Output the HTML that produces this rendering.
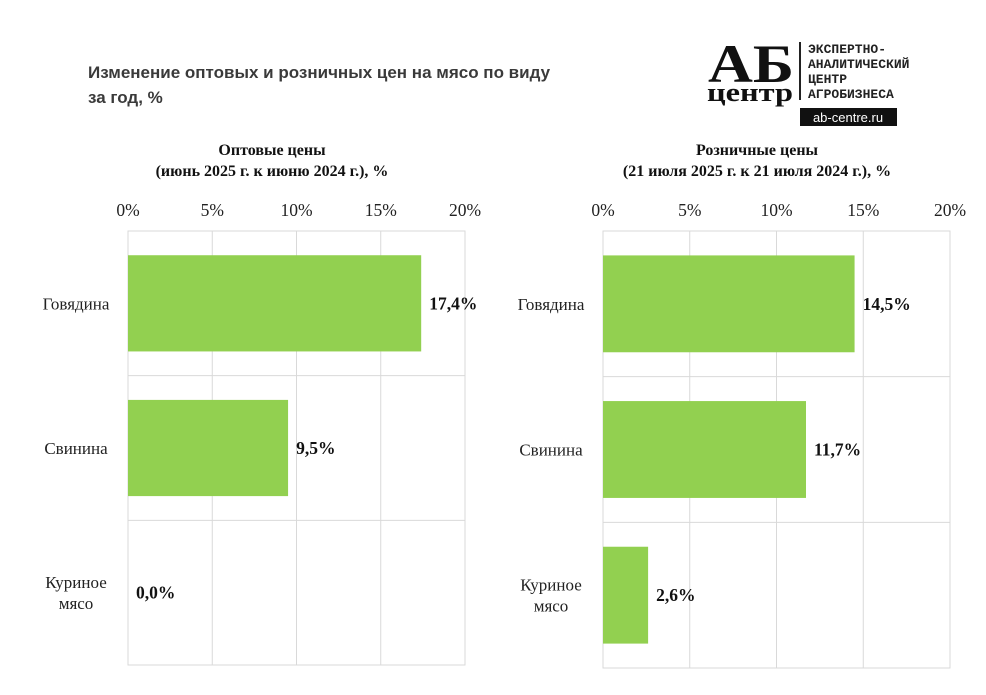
<!DOCTYPE html>
<html><head><meta charset="utf-8"><style>
body{margin:0;background:#fff;}
svg text{font-family:"Liberation Serif",serif;}
svg text.sans{font-family:"Liberation Sans",sans-serif;}
svg text.mono{font-family:"Liberation Mono",monospace;}
</style></head><body>
<svg id="svg" width="986" height="690" xmlns="http://www.w3.org/2000/svg">
<text class="sans" x="88" y="78" font-size="17" font-weight="bold" fill="#3a3a3a">Изменение оптовых и розничных цен на мясо по виду</text>
<text class="sans" x="88" y="103" font-size="17" font-weight="bold" fill="#3a3a3a">за год,  %</text>
<g>
<text x="708" y="82" font-size="54" font-weight="bold" fill="#111" textLength="86" lengthAdjust="spacingAndGlyphs">АБ</text>
<text x="707" y="101" font-size="26" font-weight="bold" fill="#111" textLength="86" lengthAdjust="spacingAndGlyphs">центр</text>
<rect x="799" y="42" width="2" height="58" fill="#222"/>
<g font-size="13" font-weight="bold" fill="#222">
<text class="mono" x="808" y="53">ЭКСПЕРТНО-</text><text class="mono" x="808" y="68">АНАЛИТИЧЕСКИЙ</text><text class="mono" x="808" y="83">ЦЕНТР</text><text class="mono" x="808" y="98">АГРОБИЗНЕСА</text></g>
<rect x="800" y="108" width="97" height="18" fill="#111"/>
<text class="sans" x="848" y="122" font-size="13" fill="#fff" text-anchor="middle">ab-centre.ru</text>
</g>
<g id="left"></g><g id="right"></g>
</svg>
<script>
const categories=["Говядина","Свинина","Куриное мясо"];
const wholesaleValues=[17.4,9.5,0.0];
const retailValues=[14.5,11.7,2.6];
const tickLabels=["0%","5%","10%","15%","20%"];
const tickValues=[0,5,10,15,20];
const NS="http://www.w3.org/2000/svg";
function mk(p,t,a,txt){const e=document.createElementNS(NS,t);for(const k in a)e.setAttribute(k,a[k]);if(txt!==undefined)e.textContent=txt;p.appendChild(e);return e;}
function draw(gid,x0,x1,top,bot,vals,t1,t2,tcx,prefix){
 const g=document.getElementById(gid);
 const xs=v=>x0+(x1-x0)*v/20;
 const rowH=(bot-top)/3;
 let e=mk(g,"text",{x:tcx,y:155,"font-size":16,"font-weight":"bold","text-anchor":"middle",fill:"#111"},t1);
 
 
 e=mk(g,"text",{x:tcx,y:176,"font-size":16,"font-weight":"bold","text-anchor":"middle",fill:"#111"},t2);
 
 
 e=mk(g,"rect",{x:x0,y:top,width:x1-x0,height:bot-top,fill:"none",stroke:"#d9d9d9"});
 
 
 tickValues.forEach((v,i)=>{
  e=mk(g,"line",{x1:xs(v),x2:xs(v),y1:top,y2:bot,stroke:"#d9d9d9"});
  
  
  e=mk(g,"text",{x:xs(v),y:216,"font-size":17.5,"text-anchor":"middle",fill:"#222"},tickLabels[i]);
  
  
 });
 for(let i=1;i<3;i++){e=mk(g,"line",{x1:x0,x2:x1,y1:top+rowH*i,y2:top+rowH*i,stroke:"#d9d9d9"});
  
  }
 categories.forEach((c,i)=>{
  const cy=top+rowH*(i+0.5);const bh=rowH*0.665;
  e=mk(g,"rect",{x:x0,y:cy-bh/2,width:xs(vals[i])-x0,height:bh,fill:"#92d050"});
  
  
  e=mk(g,"text",{x:xs(vals[i])+8,y:cy+6,"font-size":17.5,"font-weight":"bold",fill:"#111"},vals[i].toFixed(1).replace('.',',')+'%');
  
  
  const parts=c.split(' ');
  const lab=mk(g,"text",{"font-size":17,"text-anchor":"middle",fill:"#222"});
  
  
  parts.forEach((p,j)=>mk(lab,"tspan",{x:x0-52,y:cy+6+(j-(parts.length-1)/2)*21},p));
 });
}
draw("left",128,465,231,665,wholesaleValues,"Оптовые цены","(июнь 2025 г. к июню 2024 г.), %",272,"wholesale");
draw("right",603,950,231,668,retailValues,"Розничные цены","(21 июля 2025 г. к 21 июля 2024 г.), %",757,"retail");
</script>
</body></html>
